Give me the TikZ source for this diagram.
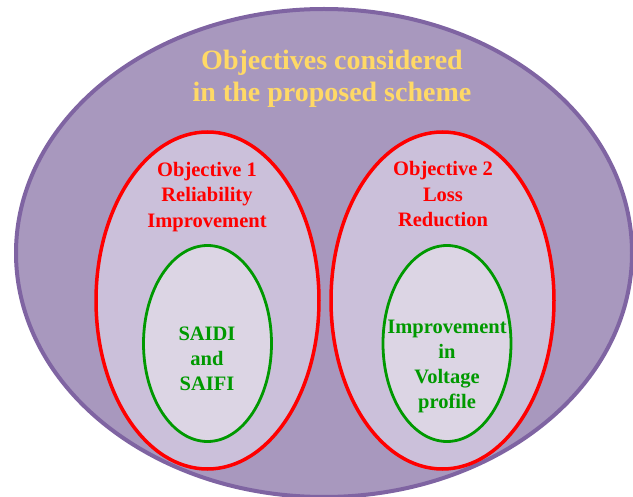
\documentclass[tikz,border=0pt]{standalone}
\usepackage{fontspec}
\setmainfont{Liberation Serif}
\usetikzlibrary{shapes.geometric}
\definecolor{outerfill}{HTML}{A898BE}
\definecolor{outerline}{HTML}{7F64A2}
\definecolor{midfill}{HTML}{CBC0DA}
\definecolor{innerfill}{HTML}{DCD5E4}
\definecolor{redline}{HTML}{FF0000}
\definecolor{greenline}{HTML}{009900}
\definecolor{gold}{HTML}{FFD966}
\tikzset{
  outerell/.style={ellipse, draw=outerline, fill=outerfill, line width=4pt, inner sep=0pt, minimum width=616pt, minimum height=488pt},
  midell/.style={ellipse, draw=redline, fill=midfill, line width=3.5pt, inner sep=0pt, minimum width=223pt, minimum height=337pt},
  innerell/.style={ellipse, draw=greenline, fill=innerfill, line width=2.8pt, inner sep=0pt, minimum width=128pt, minimum height=196pt},
  titletext/.style={text=gold, font=\fontsize{28}{32}\selectfont\bfseries, align=center, inner sep=0pt},
  redtext/.style={text=redline, font=\fontsize{20.5}{25.5}\selectfont\bfseries, align=center, inner sep=0pt},
  greentext/.style={text=greenline, font=\fontsize{20.5}{25}\selectfont\bfseries, align=center, inner sep=0pt}
}
\begin{document}
\begin{tikzpicture}[x=1pt, y=-1pt]
\useasboundingbox (0,0) rectangle (633,497);
\node[outerell] (outer) at (324,253) {};
\node[midell] (obj1) at (207.5,300.5) {};
\node[midell] (obj2) at (442.5,300.5) {};
\node[innerell] (sub1) at (207.5,343.5) {};
\node[innerell] (sub2) at (447,343.5) {};
\node[titletext] (title) at (332,78.5) {Objectives considered\\in the proposed scheme};
\node[redtext] (t1) at (207,197) {Objective 1\\Reliability\\Improvement};
\node[redtext] (t2) at (443,194.5) {Objective 2\\Loss\\Reduction};
\node[greentext] (g1) at (207,358.5) {SAIDI\\and\\SAIFI};
\node[greentext] (g2) at (447,366) {Improvement\\in\\Voltage\\profile};
\end{tikzpicture}
\end{document}
